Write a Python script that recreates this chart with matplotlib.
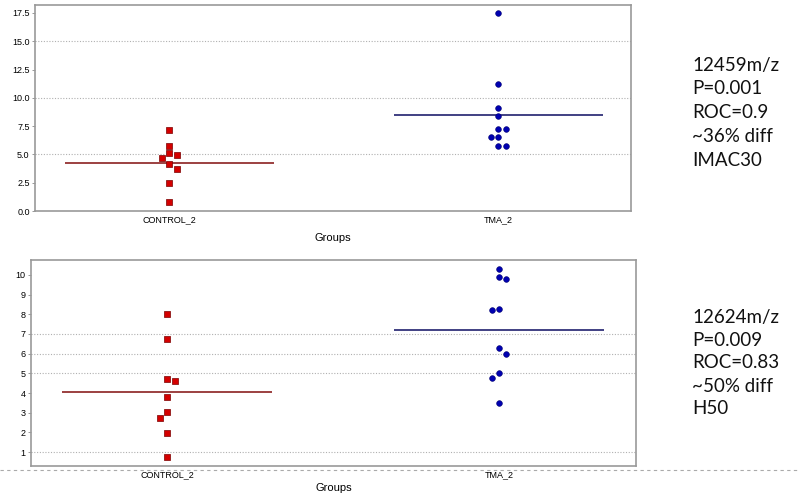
import matplotlib
matplotlib.use("Agg")
from matplotlib import pyplot as plt
import numpy as np

groups = ["CONTROL_2", "TMA_2"]

# panel 1: 12459 m/z
ctrl1 = [7.16, 5.75, 5.16, 4.92, 4.68, 4.18, 3.71, 2.45, 0.77]
ctrl1_slot = [0, 0, 0, 1, -1, 0, 1, 0, 0]
tma1 = [17.45, 11.23, 9.13, 8.4, 7.28, 7.28, 6.57, 6.57, 5.72, 5.72]
tma1_slot = [0, 0, 0, 0, 0, 1, -1, 0, 0, 1]
med1 = [4.21, 8.52]

# panel 2: 12624 m/z
ctrl2 = [8.0, 6.75, 4.70, 4.61, 3.81, 3.02, 2.71, 1.97, 0.76]
ctrl2_slot = [0, 0, 0, 1, 0, 0, -1, 0, 0]
tma2 = [10.3, 9.9, 9.81, 8.27, 8.22, 6.27, 6.0, 5.0, 4.78, 3.48]
tma2_slot = [0, 0, 1, 0, -1, 0, 1, 0, -1, 0]
med2 = [4.04, 7.19]

text1 = ["12459m/z", "P=0.001", "ROC=0.9", "~36% diff", "IMAC30"]
text2 = ["12624m/z", "P=0.009", "ROC=0.83", "~50% diff", "H50"]

plt.rcParams['font.family'] = ['Liberation Sans', 'DejaVu Sans']

fig = plt.figure(figsize=(8, 4.99), dpi=100)

def panel(rect, ctrl, cslot, tma, tslot, med, ylim, yticks, grid, xlim, fmt):
    ax = fig.add_axes(rect)
    step = 0.022
    ax.scatter(1 + np.array(cslot) * step, ctrl, marker='s', s=20, color='#d40000',
               edgecolors='#7a0000', linewidths=0.5, zorder=3)
    ax.scatter(2 + np.array(tslot) * step, tma, marker='o', s=17, color='#0000b0',
               edgecolors='#000070', linewidths=0.4, zorder=3)
    ax.hlines(med[0], 1 - 0.317, 1 + 0.317, color='#8b2020', lw=1.2, zorder=2)
    ax.hlines(med[1], 2 - 0.317, 2 + 0.317, color='#20206e', lw=1.2, zorder=2)
    for g in grid:
        ax.axhline(g, color='#b0b0b0', lw=0.8, ls=(0, (1, 1.5)), zorder=1)
    ax.set_xlim(xlim)
    ax.set_ylim(ylim)
    ax.set_xticks([1, 2])
    ax.set_xticklabels(groups, fontsize=6.5)
    ax.set_yticks(yticks)
    ax.set_yticklabels([fmt.format(v) for v in yticks], fontsize=6.5)
    ax.tick_params(axis='x', length=0, pad=3)
    ax.tick_params(axis='y', length=2, width=0.6, color='#888888', pad=2)
    for s in ax.spines.values():
        s.set_color('#999999')
        s.set_linewidth(1.2)
    return ax

ax1 = panel([0.044, 0.577, 0.745, 0.413], ctrl1, ctrl1_slot, tma1, tma1_slot, med1,
            (0, 18.2), [0, 2.5, 5, 7.5, 10, 12.5, 15, 17.5], [5, 10, 15],
            (0.592, 2.404), "{:.1f}")
ax1.set_xlabel("Groups", fontsize=8, labelpad=6)

ax2 = panel([0.039, 0.066, 0.756, 0.413], ctrl2, ctrl2_slot, tma2, tma2_slot, med2,
            (0.29, 10.76), list(range(1, 11)), [1, 5, 6, 7],
            (0.590, 2.413), "{:d}")
ax2.set_xlabel("Groups", fontsize=8, labelpad=3)

# slide separator
fig.add_artist(plt.Line2D([0, 1], [1 - 470 / 499, 1 - 470 / 499], transform=fig.transFigure,
                          color='#aaaaaa', lw=0.8, ls=(0, (3, 3)), zorder=0))

for i, t in enumerate(text1):
    fig.text(692 / 800, 1 - (65 + i * 23.8) / 499, t, fontsize=13.5, family=['Lato', 'DejaVu Sans'],
             color='#111111', va='center', ha='left')
for i, t in enumerate(text2):
    fig.text(692 / 800, 1 - (317 + i * 23) / 499, t, fontsize=13.5, family=['Lato', 'DejaVu Sans'],
             color='#111111', va='center', ha='left')

fig.savefig("out.png", dpi=100)
